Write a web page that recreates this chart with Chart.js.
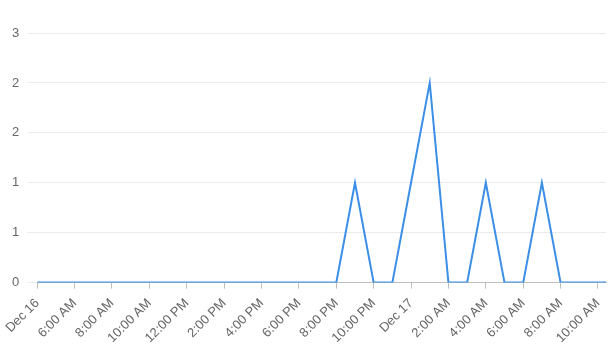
<!DOCTYPE html>
<html>
<head>
<meta charset="utf-8">
<script src="https://cdn.jsdelivr.net/npm/chart.js@4/dist/chart.umd.min.js"></script>
<style>
    html, body { margin: 0; padding: 0; background: #fff; }
    #wrap { position: relative; width: 611px; height: 353px; }
</style>
</head>
<body>
<div id="wrap"><canvas id="hourlyChart"></canvas></div>
<script>
// hours since Dec 16, 4:00 AM (last point is the current partial hour)
const hours = [0, 1, 2, 3, 4, 5, 6, 7, 8, 9, 10, 11, 12, 13, 14, 15, 16, 17, 18, 19, 20, 21, 22, 23, 24, 25, 26, 27, 28, 29, 30, 30.43];
const counts = [0, 0, 0, 0, 0, 0, 0, 0, 0, 0, 0, 0, 0, 0, 0, 0, 0, 1, 0, 0, 1, 2, 0, 0, 1, 0, 0, 1, 0, 0, 0, 0];

const tickHours = [0, 2, 4, 6, 8, 10, 12, 14, 16, 18, 20, 22, 24, 26, 28, 30];
const tickLabels = ['Dec 16', '6:00 AM', '8:00 AM', '10:00 AM', '12:00 PM', '2:00 PM', '4:00 PM', '6:00 PM',
    '8:00 PM', '10:00 PM', 'Dec 17', '2:00 AM', '4:00 AM', '6:00 AM', '8:00 AM', '10:00 AM'];

const yTicks = [0, 0.5, 1, 1.5, 2, 2.5];

Chart.defaults.font.family = "'Liberation Sans', Arial, sans-serif";
Chart.defaults.font.size = 13;
Chart.defaults.color = '#666';

const ctx = document.getElementById('hourlyChart').getContext('2d');

const hourlyChart = new Chart(ctx, {
    type: 'line',
    data: {
        datasets: [{
            label: 'Count',
            data: hours.map((h, i) => ({ x: h, y: counts[i] })),
            borderColor: '#3b8fe6',
            borderWidth: 2,
            pointRadius: 0,
            tension: 0,
            fill: false
        }]
    },
    options: {
        responsive: true,
        maintainAspectRatio: false,
        animation: false,
        layout: {
            padding: { top: 33, right: 0, left: 4, bottom: 0 }
        },
        plugins: {
            legend: { display: false },
            tooltip: { enabled: false }
        },
        scales: {
            x: {
                type: 'linear',
                min: hours[0],
                max: hours[hours.length - 1],
                afterBuildTicks: (scale) => {
                    scale.ticks = tickHours.map(v => ({ value: v }));
                },
                afterFit: (scale) => {
                    scale.paddingRight = 5;
                },
                ticks: {
                    autoSkip: false,
                    minRotation: 45,
                    maxRotation: 45,
                    padding: 7,
                    callback: (value) => {
                        const idx = tickHours.indexOf(value);
                        return idx >= 0 ? tickLabels[idx] : '';
                    }
                },
                grid: {
                    drawOnChartArea: false,
                    drawTicks: true,
                    tickLength: 6,
                    color: '#bdbdbd'
                },
                border: {
                    display: true,
                    color: '#bdbdbd'
                }
            },
            y: {
                min: 0,
                max: 2.5,
                afterBuildTicks: (scale) => {
                    scale.ticks = yTicks.map(v => ({ value: v }));
                },
                ticks: {
                    padding: 8,
                    callback: (value) => String(Math.round(value))
                },
                grid: {
                    color: '#ebebeb',
                    tickLength: 10
                },
                border: {
                    display: false
                }
            }
        }
    }
});
</script>
</body>
</html>
